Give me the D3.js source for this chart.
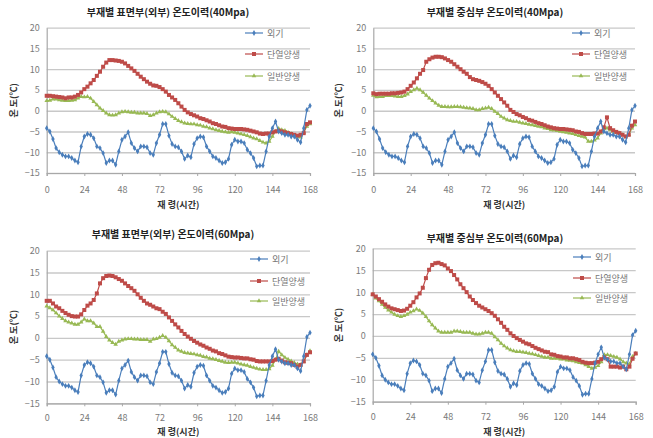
<!DOCTYPE html>
<html>
<head>
<meta charset="utf-8">
<script src="https://cdn.jsdelivr.net/npm/d3@7"></script>
<style>
body { margin: 0; background: #fff; }
svg text { font-family: "Noto Sans CJK KR", "Noto Sans", sans-serif; }
</style>
</head>
<body>
<div id="chart"></div>
<script>
'use strict'

// hours, every 2 h from 0 to 168
let hours = d3.range(0, 169, 2)
let xTicks = [0, 24, 48, 72, 96, 120, 144, 168]
let yTicks = [20, 15, 10, 5, 0, -5, -10, -15]
let seriesNames = ["외기", "단열양생", "일반양생"]

// outdoor air (same in all four panels)
let outdoor = [-4.2, -5, -6.8, -9, -10, -10.6, -11, -11, -11.4, -12, -12.4, -8.6, -6.2, -5.6, -5.8, -6.6,
	-8.6, -9, -10.2, -12.6, -12, -12, -13, -9.8, -7, -6.2, -5.2, -7.8, -9, -9.8, -8.6, -8.6, -8.8,
	-10.2, -10.6, -7.8, -5.8, -3.2, -3.2, -6, -8, -8.6, -8.8, -9.8, -11.6, -10.8, -11.2, -8, -6.6,
	-6.2, -6.4, -8.6, -9.8, -11, -11.4, -12, -12.6, -12.4, -11.6, -8.2, -7, -7.4, -7.4, -7.8, -9.4,
	-10.2, -11.4, -13.4, -13.2, -13.2, -9.8, -6.2, -4.2, -2.6, -5, -5.4, -5.8, -5.8, -6.2, -6.2, -7,
	-7.6, -4.2, 0.2, 1.2]

// 40Mpa surface
let red40s = [3.6, 3.6, 3.5, 3.4, 3.3, 3.2, 3.0, 3.2, 3.2, 3.4, 3.8, 4.4, 5.2, 5.8, 6.6, 7.4, 8.4, 9.4,
	10.6, 11.6, 12.2, 12.2, 12.1, 12.0, 11.8, 11.4, 10.8, 10.2, 9.6, 8.9, 8.2, 7.6, 7.0, 6.5, 6.1, 6.0,
	5.7, 5.2, 4.6, 3.8, 3.2, 2.6, 1.8, 1.0, 0.2, -0.4, -0.8, -1.1, -1.4, -1.8, -2.0, -2.3, -2.6, -3.0,
	-3.2, -3.5, -3.8, -3.9, -4.2, -4.3, -4.4, -4.4, -4.4, -4.5, -4.6, -4.8, -5.0, -5.2, -5.5, -5.6,
	-5.5, -5.5, -5.2, -5.0, -4.8, -5.0, -5.2, -5.4, -5.6, -5.8, -6.0, -5.8, -5.4, -3.2, -2.8]
let green40s = [2.4, 2.5, 2.8, 2.8, 2.6, 2.5, 2.4, 2.4, 2.5, 2.6, 3.0, 3.4, 3.3, 3.4, 3.0, 2.2, 1.4, 0.6,
	0, -0.6, -1.0, -1.1, -1.0, -0.6, -0.3, -0.2, -0.3, -0.4, -0.4, -0.6, -0.6, -0.6, -0.7, -1.2, -1.0,
	-0.6, -0.3, -0.2, -0.3, -0.8, -1.4, -1.9, -2.4, -2.7, -3.0, -3.1, -3.2, -3.2, -3.4, -3.5, -3.8,
	-3.9, -4.2, -4.4, -4.6, -4.8, -5.0, -5.1, -5.2, -5.1, -5.2, -5.4, -5.6, -5.8, -6.0, -6.3, -6.6,
	-6.8, -7.2, -7.6, -7.8, -7.4, -6.2, -5.0, -4.3, -4.6, -4.8, -5.2, -5.6, -6.0, -6.2, -6.4, -5.2,
	-3.8, -3.2]

// 40Mpa core
let red40c = [4.2, 4.0, 4.1, 4.1, 4.1, 4.1, 4.2, 4.2, 4.3, 4.4, 4.6, 5.2, 6.0, 6.8, 7.8, 8.9, 9.8, 11.8,
	12.4, 12.8, 13.0, 13.0, 12.9, 12.6, 12.2, 11.8, 11.2, 10.6, 10.0, 9.4, 8.9, 8.1, 7.6, 7.4, 7.2, 6.9,
	6.5, 6.0, 5.2, 4.4, 3.6, 2.8, 2.0, 1.2, 0.2, -0.3, -0.8, -1.1, -1.5, -1.8, -2.2, -2.4, -2.7, -3.0,
	-3.2, -3.5, -3.8, -4.0, -4.2, -4.3, -4.4, -4.4, -4.5, -4.6, -4.7, -5.0, -5.1, -5.4, -5.6, -5.6,
	-5.6, -5.5, -5.5, -5.0, -4.0, -1.6, -4.2, -4.7, -5.1, -5.4, -5.8, -6.2, -5.8, -3.6, -2.6]
let green40c = [3.7, 3.3, 3.4, 3.4, 3.6, 3.6, 3.6, 3.5, 3.4, 3.4, 3.6, 4.0, 4.6, 5.0, 5.4, 5.0, 4.4, 3.7,
	3.0, 2.4, 1.8, 1.3, 1.0, 1.0, 0.9, 0.9, 1.0, 1.0, 0.9, 0.8, 0.7, 0.6, 0.5, 0.2, 0.2, 0.5, 0.6, 0.8,
	0.5, -0.2, -0.7, -1.4, -1.8, -2.2, -2.4, -2.6, -2.6, -2.8, -3.0, -3.1, -3.3, -3.4, -3.6, -3.8, -3.9,
	-4.2, -4.3, -4.6, -4.7, -4.8, -5.0, -5.1, -5.2, -5.4, -5.5, -5.8, -6.0, -6.2, -6.4, -7.4, -7.4,
	-7.1, -6.6, -5.4, -4.4, -4.2, -4.6, -5.0, -5.2, -5.4, -5.8, -6.3, -5.8, -4.2, -3.4]

// 60Mpa surface
let red60s = [8.5, 8.5, 7.9, 7.2, 6.8, 6.2, 5.7, 5.3, 5.0, 4.9, 4.9, 5.4, 6.4, 7.4, 7.9, 8.7, 10.2, 12.5,
	13.7, 14.2, 14.3, 14.2, 13.9, 13.5, 13.1, 12.5, 11.9, 11.4, 10.8, 10.0, 9.2, 8.5, 7.9, 7.6, 7.2,
	6.8, 6.6, 6.0, 5.5, 4.7, 3.9, 3.1, 2.4, 1.6, 0.9, 0.3, -0.2, -0.7, -1.1, -1.5, -1.8, -2.2, -2.5,
	-2.9, -3.1, -3.5, -3.7, -4.0, -4.3, -4.4, -4.5, -4.5, -4.6, -4.7, -4.7, -4.9, -5.0, -5.3, -5.4,
	-5.4, -5.4, -5.4, -5.3, -5.0, -4.8, -5.2, -5.6, -5.7, -5.8, -6.2, -6.6, -6.2, -5.4, -3.9, -3.3]
let green60s = [7.3, 6.9, 6.4, 5.7, 5.0, 4.4, 3.9, 3.6, 3.4, 3.1, 3.1, 3.6, 4.3, 3.9, 3.9, 3.4, 2.6, 2.6,
	1.5, 0.3, -0.5, -1.1, -1.5, -0.8, -0.5, -0.3, -0.2, -0.2, -0.3, -0.3, -0.4, -0.4, -0.4, -0.8, -0.3,
	-0.2, 0.1, 0.5, 0.1, -0.7, -1.6, -2.2, -2.8, -3.1, -3.4, -3.5, -3.6, -3.7, -3.9, -4.0, -4.3, -4.4,
	-4.7, -4.8, -5.0, -5.2, -5.4, -5.6, -5.7, -5.6, -5.6, -5.8, -6.0, -6.2, -6.3, -6.6, -6.8, -7.0,
	-7.2, -7.3, -7.3, -7.1, -6.3, -5.0, -3.1, -3.9, -4.5, -4.9, -5.3, -5.7, -6.0, -6.2, -5.4, -3.9, -3.0]

// 60Mpa core
let red60c = [9.5, 9.0, 8.4, 7.8, 7.2, 6.7, 6.3, 6.1, 5.9, 5.7, 5.8, 6.2, 6.9, 7.7, 8.8, 9.7, 11.0, 13.2,
	15.1, 16.2, 16.6, 16.7, 16.4, 16.1, 15.4, 14.8, 13.9, 12.9, 11.8, 10.9, 10.0, 9.0, 8.2, 7.5, 6.9,
	6.5, 6.1, 5.7, 5.2, 4.6, 3.8, 3.0, 2.1, 1.4, 0.6, 0, -0.5, -0.9, -1.3, -1.7, -1.9, -2.3, -2.7, -3.0,
	-3.3, -3.6, -3.7, -4.2, -4.3, -4.6, -4.7, -4.9, -4.9, -5.1, -5.1, -5.3, -5.5, -5.9, -6.1, -6.2,
	-6.2, -6.1, -5.9, -5.3, -4.9, -5.3, -7.0, -7.0, -7.0, -7.2, -7.0, -7.6, -7.0, -5.2, -4.0]
let green60c = [9.5, 8.6, 8.0, 7.2, 6.5, 5.9, 5.4, 4.9, 4.6, 4.4, 4.6, 4.9, 5.4, 5.7, 6.1, 5.8, 5.2, 4.4,
	3.4, 2.5, 1.8, 1.1, 0.8, 0.8, 0.8, 0.8, 1.1, 1.1, 1.0, 0.8, 0.8, 0.8, 0.6, 0.4, 0.4, 0.6, 0.8, 0.8,
	0.6, -0.2, -0.9, -1.7, -2.3, -2.8, -3.2, -3.4, -3.6, -3.6, -3.7, -3.8, -4.0, -4.1, -4.3, -4.5, -4.7,
	-4.9, -4.9, -5.1, -5.1, -5.1, -5.3, -5.3, -5.5, -5.6, -5.7, -5.9, -6.1, -6.2, -6.6, -7.0, -7.4,
	-7.2, -6.8, -5.9, -4.3, -4.3, -4.5, -4.7, -4.9, -5.3, -5.9, -6.2, -6.4, -4.7, -4.0]

let colors = ["#4a7ebb", "#be4b48", "#98b954"]

let panels = [
	{ title: "부재별 표면부(외부) 온도이력(40Mpa)", left: 46.7, right: 310, top: 27.7, bottom: 173,
		titleX: 168, titleY: 16, tickY: 192.5, xTitleY: 207.5, yTitleX: 17, legX: 245, legY: [33, 54, 76],
		data: [outdoor, red40s, green40s] },
	{ title: "부재별 중심부 온도이력(40Mpa)", left: 373.3, right: 635, top: 27.7, bottom: 173,
		titleX: 495, titleY: 16, tickY: 192.5, xTitleY: 207.5, yTitleX: 342, legX: 572, legY: [33, 54, 76],
		data: [outdoor, red40c, green40c] },
	{ title: "부재별 표면부(외부) 온도이력(60Mpa)", left: 46.7, right: 310, top: 250.7, bottom: 403.3,
		titleX: 173, titleY: 238, tickY: 421, xTitleY: 435, yTitleX: 17, legX: 250, legY: [259, 281, 301],
		data: [outdoor, red60s, green60s] },
	{ title: "부재별 중심부 온도이력(60Mpa)", left: 372.7, right: 635.7, top: 248.3, bottom: 401.7,
		titleX: 495, titleY: 242, tickY: 420, xTitleY: 435, yTitleX: 342, legX: 573, legY: [257, 278, 298],
		data: [outdoor, red60c, green60c] }
]

let svg = d3.select("#chart").append("svg")
	.attr("width", 653)
	.attr("height", 438)

function drawMarker(g, type, x, y, color){
	if (type == 0){
		g.append("path").attr("d", d3.symbol(d3.symbolDiamond, 10)())
			.attr("transform", "translate(" + x + "," + y + ")").attr("fill", color)
	} else if (type == 1){
		g.append("rect").attr("x", x - 2).attr("y", y - 2).attr("width", 4).attr("height", 4).attr("fill", color)
	} else {
		g.append("path").attr("d", d3.symbol(d3.symbolTriangle, 9)())
			.attr("transform", "translate(" + x + "," + y + ")").attr("fill", color)
	}
}

function drawPanel(p){
	let g = svg.append("g")
	let xScale = d3.scaleLinear().domain([0, 168]).range([p.left, p.right])
	let yScale = d3.scaleLinear().domain([-15, 20]).range([p.bottom, p.top])

	// gridlines
	g.append("g").attr("transform", "translate(" + p.left + ",0)")
		.call(d3.axisLeft(yScale).tickValues(yTicks).tickSize(-(p.right - p.left)).tickFormat(""))
		.call(a => a.select(".domain").remove())
		.selectAll("line").attr("stroke", "#c8c8c8").attr("stroke-width", 1.3)

	// y axis
	let ya = g.append("g").attr("transform", "translate(" + p.left + ",0)")
		.call(d3.axisLeft(yScale).tickValues(yTicks).tickSize(0).tickPadding(7)
			.tickFormat(d => d < 0 ? "\u2212" + Math.abs(d) : d))
	ya.select(".domain").attr("stroke", "#a8a8a8").attr("stroke-width", 1.2)
	ya.selectAll("text").attr("fill", "#7a7a7a").style("font-size", "9px")

	// x axis
	let xa = g.append("g").attr("transform", "translate(0," + p.bottom + ")")
		.call(d3.axisBottom(xScale).tickValues(xTicks).tickSize(3).tickPadding(2))
	xa.select(".domain").attr("stroke", "#a8a8a8").attr("stroke-width", 1.2)
	xa.selectAll("line").attr("stroke", "#a8a8a8")
	xa.selectAll("text").attr("fill", "#7a7a7a").style("font-size", "9px")
		.attr("y", p.tickY - p.bottom).attr("dy", null)

	// series
	let order = [2, 1, 0]
	order.forEach(function(s){
		let vals = p.data[s]
		let line = d3.line().x((d, i) => xScale(hours[i])).y(d => yScale(d))
		g.append("path").datum(vals).attr("d", line)
			.attr("fill", "none").attr("stroke", colors[s]).attr("stroke-width", 1.2)
		vals.forEach(function(v, i){
			drawMarker(g, s, xScale(hours[i]), yScale(v), colors[s])
		})
	})

	// legend
	seriesNames.forEach(function(name, s){
		let ly = p.legY[s]
		g.append("line").attr("x1", p.legX).attr("x2", p.legX + 18)
			.attr("y1", ly).attr("y2", ly).attr("stroke", colors[s]).attr("stroke-width", 1.2)
		drawMarker(g, s, p.legX + 9, ly, colors[s])
		g.append("text").attr("x", p.legX + 22).attr("y", ly + 3.5)
			.attr("fill", "#777").style("font-size", "9px").text(name)
	})

	// titles
	g.append("text").attr("x", p.titleX).attr("y", p.titleY).attr("text-anchor", "middle")
		.style("font-size", "10px").style("font-weight", "bold").attr("fill", "#222").text(p.title)
	g.append("text").attr("x", (p.left + p.right) / 2).attr("y", p.xTitleY).attr("text-anchor", "middle")
		.style("font-size", "9px").style("font-weight", "bold").attr("fill", "#333").text("재 령(시간)")
	g.append("text").attr("transform", "translate(" + p.yTitleX + "," + ((p.top + p.bottom) / 2) + ") rotate(-90)")
		.attr("text-anchor", "middle").style("font-size", "9px").style("font-weight", "bold")
		.attr("fill", "#333").text("온 도(℃)")
}

panels.forEach(drawPanel)
</script>
</body>
</html>
